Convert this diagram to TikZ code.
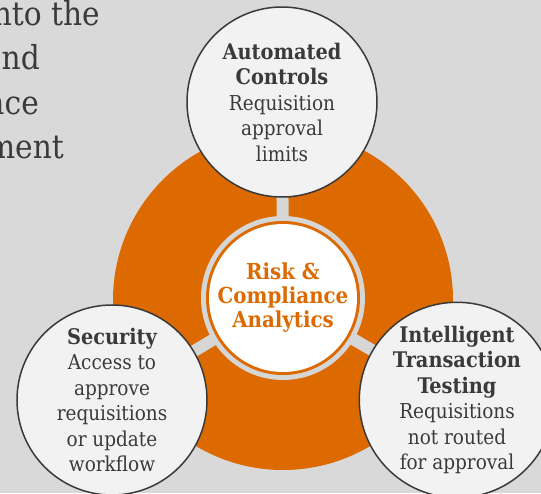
\documentclass[tikz,border=0pt]{standalone}
\usepackage{fontspec}
\setmainfont{DejaVu Serif Condensed}
\pgfdeclarelayer{back}
\pgfsetlayers{back,main}
\definecolor{bgc}{HTML}{D9D9D9}
\definecolor{ringc}{HTML}{D6D6D6}
\definecolor{orng}{RGB}{220,106,0}
\definecolor{circfill}{HTML}{F2F2F2}
\definecolor{ink}{HTML}{3A3A3A}
\newcommand{\hd}[1]{{\bfseries\fontsize{21.5}{25.5}\selectfont #1}}
\tikzset{
  outer/.style={circle, draw=ink, line width=1.5pt, fill=circfill, minimum size=190pt, inner sep=0pt, align=center, text=ink, font=\fontsize{20.5}{25.5}\selectfont},
  hub/.style={circle, fill=white, minimum size=138pt, inner sep=0pt, align=center, text=orng, font=\bfseries\fontsize{22}{24}\selectfont},
  bar/.style={draw=ringc, line width=12pt},
  sidetext/.style={anchor=base east, inner sep=0pt, text=ink, font=\fontsize{33}{40}\selectfont}
}
\begin{document}
\begin{tikzpicture}[x=1pt,y=-1pt]
\useasboundingbox (0,0) rectangle (541,493);
\clip (0,0) rectangle (541,493);

\node[sidetext] (l1) at (100,25) {nto the};
\node[sidetext] (l2) at (40,69.5) {nd};
\node[sidetext] (l3) at (39,114) {nce};
\node[sidetext] (l4) at (64,158) {nment};

\node[hub] (hub) at (283,298) {Risk \&\\Compliance\\Analytics};
\node[outer] (top) at (282,102) {\hd{Automated}\\\hd{Controls}\\Requisition\\approval\\limits};
\node[outer] (sec) at (112,400) {\hd{Security}\\Access to\\approve\\requisitions\\or update\\workflow};
\node[outer] (itt) at (457,400) {\hd{Intelligent}\\\hd{Transaction}\\\hd{Testing}\\Requisitions\\not routed\\for approval};

\begin{pgfonlayer}{back}
  \fill[bgc] (0,0) rectangle (541,493);
  \fill[orng] (283,300) circle (170);
  \draw[bar] (hub.center) -- (top.center);
  \draw[bar] (hub.center) -- (sec.center);
  \draw[bar] (hub.center) -- (itt.center);
  \fill[ringc] (hub.center) circle (82);
  \fill[orng] (hub.center) circle (77);
\end{pgfonlayer}
\end{tikzpicture}
\end{document}
